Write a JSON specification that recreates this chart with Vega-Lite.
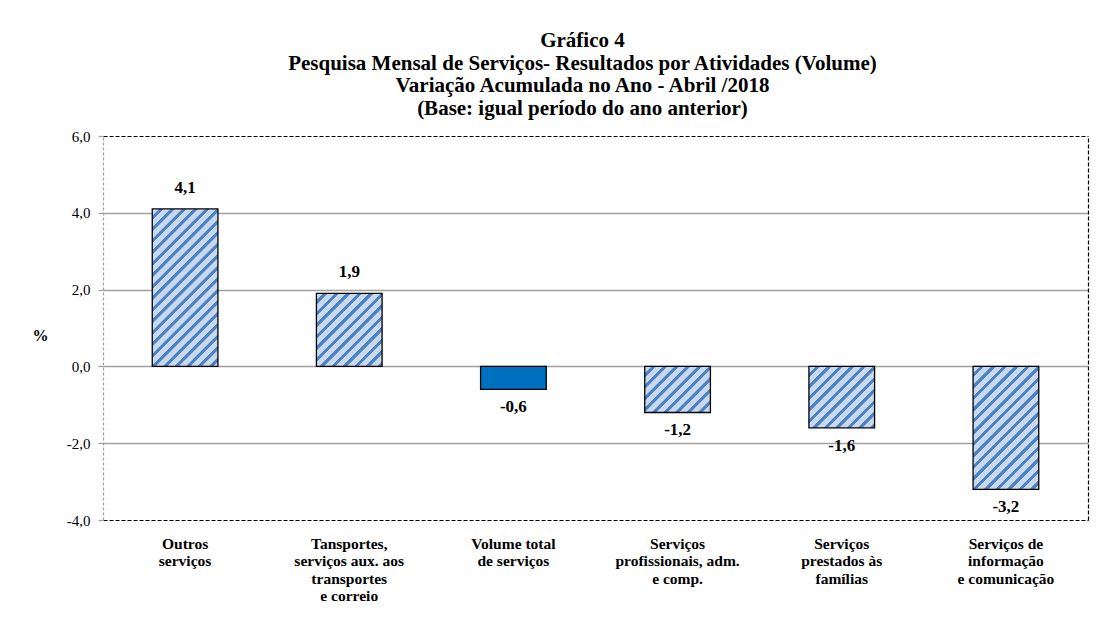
{
  "$schema": "https://vega.github.io/schema/vega-lite/v6.json",
  "autosize": "none",
  "width": 985,
  "height": 384,
  "padding": {"left": 103, "top": 136, "right": 10, "bottom": 99},
  "background": "white",
  "config": {
    "view": {"stroke": null},
    "locale": {"number": {"decimal": ",", "thousands": ".", "grouping": [3], "currency": ["", ""], "minus": "-"}},
    "font": "Liberation Serif"
  },
  "title": {
    "text": ["Gráfico 4", "Pesquisa Mensal de Serviços- Resultados por Atividades  (Volume)", "Variação Acumulada no Ano - Abril /2018", "(Base: igual período  do ano anterior)"],
    "font": "Liberation Serif",
    "fontSize": 21,
    "fontWeight": "bold",
    "lineHeight": 22.7,
    "color": "black",
    "anchor": "middle",
    "frame": "group",
    "offset": 10,
    "dx": -13
  },
  "data": {
    "values": [
      {"cat": "Outros|serviços", "v": 4.1},
      {"cat": "Tansportes,|serviços aux. aos|transportes|e correio", "v": 1.9},
      {"cat": "Volume total|de serviços", "v": -0.6},
      {"cat": "Serviços|profissionais, adm.|e comp.", "v": -1.2},
      {"cat": "Serviços|prestados às|famílias", "v": -1.6},
      {"cat": "Serviços de|informação|e comunicação", "v": -3.2}
    ]
  },
  "encoding": {
    "x": {"field": "cat", "type": "nominal", "sort": null, "scale": {"paddingInner": 0.6, "paddingOuter": 0.3}},
    "y": {"field": "v", "type": "quantitative", "scale": {"domain": [-4, 6], "nice": false, "zero": true}}
  },
  "resolve": {"axis": {"x": "independent", "y": "independent"}},
  "layer": [
    {
      "mark": {"type": "bar", "stroke": "black", "strokeWidth": 1.3},
      "encoding": {
        "x": {"field": "cat", "type": "nominal", "sort": null, "axis": {
          "title": null, "orient": "bottom", "labelAngle": 0, "ticks": false, "tickSize": 0,
          "labelPadding": 16, "labelFont": "Liberation Serif", "labelFontSize": 15.5, "labelFontWeight": "bold",
          "labelColor": "black", "labelLineHeight": 17.5, "labelBaseline": "top",
          "labelExpr": "split(datum.label, '|')",
          "domainColor": "black", "domainDash": [4, 2], "domainWidth": 1.2
        }},
        "y": {"field": "v", "type": "quantitative", "axis": {
          "title": "%", "titleAngle": 0, "titleFont": "Liberation Serif", "titleFontSize": 16, "titleFontWeight": "bold",
          "titleColor": "black", "titleX": -63, "titleY": 199, "titleAlign": "center", "titleBaseline": "middle",
          "values": [-4, -2, 0, 2, 4, 6], "format": ".1f",
          "labelFont": "Liberation Serif", "labelFontSize": 15, "labelColor": "black", "labelPadding": 8,
          "ticks": true, "tickSize": 5, "tickColor": "#a0a0a0", "tickWidth": 1.3,
          "grid": true, "gridWidth": 1.3,
          "gridColor": {"condition": {"test": "datum.value == 6 || datum.value == -4", "value": "transparent"}, "value": "#a0a0a0"},
          "domainColor": "#a0a0a0", "domainDash": [3, 2], "domainWidth": 1.2
        }},
        "fill": {
          "condition": [
            {"test": "datum.v == 4.1", "value": {"gradient": "linear", "x1": 0, "y1": 0, "x2": 0.5192, "y2": 1.2442, "stops": [
{"offset":0,"color":"#c6d9f1"},{"offset":0.029,"color":"#c6d9f1"},{"offset":0.031,"color":"#4f81bd"},{"offset":0.048,"color":"#4f81bd"},
{"offset":0.05,"color":"#c6d9f1"},{"offset":0.079,"color":"#c6d9f1"},{"offset":0.081,"color":"#4f81bd"},{"offset":0.098,"color":"#4f81bd"},
{"offset":0.1,"color":"#c6d9f1"},{"offset":0.129,"color":"#c6d9f1"},{"offset":0.131,"color":"#4f81bd"},{"offset":0.148,"color":"#4f81bd"},
{"offset":0.15,"color":"#c6d9f1"},{"offset":0.179,"color":"#c6d9f1"},{"offset":0.181,"color":"#4f81bd"},{"offset":0.198,"color":"#4f81bd"},
{"offset":0.2,"color":"#c6d9f1"},{"offset":0.229,"color":"#c6d9f1"},{"offset":0.231,"color":"#4f81bd"},{"offset":0.248,"color":"#4f81bd"},
{"offset":0.25,"color":"#c6d9f1"},{"offset":0.279,"color":"#c6d9f1"},{"offset":0.281,"color":"#4f81bd"},{"offset":0.298,"color":"#4f81bd"},
{"offset":0.3,"color":"#c6d9f1"},{"offset":0.329,"color":"#c6d9f1"},{"offset":0.331,"color":"#4f81bd"},{"offset":0.348,"color":"#4f81bd"},
{"offset":0.35,"color":"#c6d9f1"},{"offset":0.379,"color":"#c6d9f1"},{"offset":0.381,"color":"#4f81bd"},{"offset":0.398,"color":"#4f81bd"},
{"offset":0.4,"color":"#c6d9f1"},{"offset":0.429,"color":"#c6d9f1"},{"offset":0.431,"color":"#4f81bd"},{"offset":0.448,"color":"#4f81bd"},
{"offset":0.45,"color":"#c6d9f1"},{"offset":0.479,"color":"#c6d9f1"},{"offset":0.481,"color":"#4f81bd"},{"offset":0.498,"color":"#4f81bd"},
{"offset":0.5,"color":"#c6d9f1"},{"offset":0.529,"color":"#c6d9f1"},{"offset":0.531,"color":"#4f81bd"},{"offset":0.548,"color":"#4f81bd"},
{"offset":0.55,"color":"#c6d9f1"},{"offset":0.579,"color":"#c6d9f1"},{"offset":0.581,"color":"#4f81bd"},{"offset":0.598,"color":"#4f81bd"},
{"offset":0.6,"color":"#c6d9f1"},{"offset":0.629,"color":"#c6d9f1"},{"offset":0.631,"color":"#4f81bd"},{"offset":0.648,"color":"#4f81bd"},
{"offset":0.65,"color":"#c6d9f1"},{"offset":0.679,"color":"#c6d9f1"},{"offset":0.681,"color":"#4f81bd"},{"offset":0.698,"color":"#4f81bd"},
{"offset":0.7,"color":"#c6d9f1"},{"offset":0.729,"color":"#c6d9f1"},{"offset":0.731,"color":"#4f81bd"},{"offset":0.748,"color":"#4f81bd"},
{"offset":0.75,"color":"#c6d9f1"},{"offset":0.779,"color":"#c6d9f1"},{"offset":0.781,"color":"#4f81bd"},{"offset":0.798,"color":"#4f81bd"},
{"offset":0.8,"color":"#c6d9f1"},{"offset":0.829,"color":"#c6d9f1"},{"offset":0.831,"color":"#4f81bd"},{"offset":0.848,"color":"#4f81bd"},
{"offset":0.85,"color":"#c6d9f1"},{"offset":0.879,"color":"#c6d9f1"},{"offset":0.881,"color":"#4f81bd"},{"offset":0.898,"color":"#4f81bd"},
{"offset":0.9,"color":"#c6d9f1"},{"offset":0.929,"color":"#c6d9f1"},{"offset":0.931,"color":"#4f81bd"},{"offset":0.948,"color":"#4f81bd"},
{"offset":0.95,"color":"#c6d9f1"},{"offset":0.979,"color":"#c6d9f1"},{"offset":0.981,"color":"#4f81bd"},{"offset":0.998,"color":"#4f81bd"},
{"offset":1,"color":"#c6d9f1"}]}},
            {"test": "datum.v == 1.9", "value": {"gradient": "linear", "x1": 0, "y1": 0, "x2": 1.5676, "y2": 1.7408, "stops": [
{"offset":0,"color":"#c6d9f1"},{"offset":0.029,"color":"#c6d9f1"},{"offset":0.031,"color":"#4f81bd"},{"offset":0.048,"color":"#4f81bd"},
{"offset":0.05,"color":"#c6d9f1"},{"offset":0.079,"color":"#c6d9f1"},{"offset":0.081,"color":"#4f81bd"},{"offset":0.098,"color":"#4f81bd"},
{"offset":0.1,"color":"#c6d9f1"},{"offset":0.129,"color":"#c6d9f1"},{"offset":0.131,"color":"#4f81bd"},{"offset":0.148,"color":"#4f81bd"},
{"offset":0.15,"color":"#c6d9f1"},{"offset":0.179,"color":"#c6d9f1"},{"offset":0.181,"color":"#4f81bd"},{"offset":0.198,"color":"#4f81bd"},
{"offset":0.2,"color":"#c6d9f1"},{"offset":0.229,"color":"#c6d9f1"},{"offset":0.231,"color":"#4f81bd"},{"offset":0.248,"color":"#4f81bd"},
{"offset":0.25,"color":"#c6d9f1"},{"offset":0.279,"color":"#c6d9f1"},{"offset":0.281,"color":"#4f81bd"},{"offset":0.298,"color":"#4f81bd"},
{"offset":0.3,"color":"#c6d9f1"},{"offset":0.329,"color":"#c6d9f1"},{"offset":0.331,"color":"#4f81bd"},{"offset":0.348,"color":"#4f81bd"},
{"offset":0.35,"color":"#c6d9f1"},{"offset":0.379,"color":"#c6d9f1"},{"offset":0.381,"color":"#4f81bd"},{"offset":0.398,"color":"#4f81bd"},
{"offset":0.4,"color":"#c6d9f1"},{"offset":0.429,"color":"#c6d9f1"},{"offset":0.431,"color":"#4f81bd"},{"offset":0.448,"color":"#4f81bd"},
{"offset":0.45,"color":"#c6d9f1"},{"offset":0.479,"color":"#c6d9f1"},{"offset":0.481,"color":"#4f81bd"},{"offset":0.498,"color":"#4f81bd"},
{"offset":0.5,"color":"#c6d9f1"},{"offset":0.529,"color":"#c6d9f1"},{"offset":0.531,"color":"#4f81bd"},{"offset":0.548,"color":"#4f81bd"},
{"offset":0.55,"color":"#c6d9f1"},{"offset":0.579,"color":"#c6d9f1"},{"offset":0.581,"color":"#4f81bd"},{"offset":0.598,"color":"#4f81bd"},
{"offset":0.6,"color":"#c6d9f1"},{"offset":0.629,"color":"#c6d9f1"},{"offset":0.631,"color":"#4f81bd"},{"offset":0.648,"color":"#4f81bd"},
{"offset":0.65,"color":"#c6d9f1"},{"offset":0.679,"color":"#c6d9f1"},{"offset":0.681,"color":"#4f81bd"},{"offset":0.698,"color":"#4f81bd"},
{"offset":0.7,"color":"#c6d9f1"},{"offset":0.729,"color":"#c6d9f1"},{"offset":0.731,"color":"#4f81bd"},{"offset":0.748,"color":"#4f81bd"},
{"offset":0.75,"color":"#c6d9f1"},{"offset":0.779,"color":"#c6d9f1"},{"offset":0.781,"color":"#4f81bd"},{"offset":0.798,"color":"#4f81bd"},
{"offset":0.8,"color":"#c6d9f1"},{"offset":0.829,"color":"#c6d9f1"},{"offset":0.831,"color":"#4f81bd"},{"offset":0.848,"color":"#4f81bd"},
{"offset":0.85,"color":"#c6d9f1"},{"offset":0.879,"color":"#c6d9f1"},{"offset":0.881,"color":"#4f81bd"},{"offset":0.898,"color":"#4f81bd"},
{"offset":0.9,"color":"#c6d9f1"},{"offset":0.929,"color":"#c6d9f1"},{"offset":0.931,"color":"#4f81bd"},{"offset":0.948,"color":"#4f81bd"},
{"offset":0.95,"color":"#c6d9f1"},{"offset":0.979,"color":"#c6d9f1"},{"offset":0.981,"color":"#4f81bd"},{"offset":0.998,"color":"#4f81bd"},
{"offset":1,"color":"#c6d9f1"}]}},
            {"test": "datum.v == -1.2", "value": {"gradient": "linear", "x1": 0, "y1": 0, "x2": 2.3465, "y2": 1.6457, "stops": [
{"offset":0,"color":"#c6d9f1"},{"offset":0.029,"color":"#c6d9f1"},{"offset":0.031,"color":"#4f81bd"},{"offset":0.048,"color":"#4f81bd"},
{"offset":0.05,"color":"#c6d9f1"},{"offset":0.079,"color":"#c6d9f1"},{"offset":0.081,"color":"#4f81bd"},{"offset":0.098,"color":"#4f81bd"},
{"offset":0.1,"color":"#c6d9f1"},{"offset":0.129,"color":"#c6d9f1"},{"offset":0.131,"color":"#4f81bd"},{"offset":0.148,"color":"#4f81bd"},
{"offset":0.15,"color":"#c6d9f1"},{"offset":0.179,"color":"#c6d9f1"},{"offset":0.181,"color":"#4f81bd"},{"offset":0.198,"color":"#4f81bd"},
{"offset":0.2,"color":"#c6d9f1"},{"offset":0.229,"color":"#c6d9f1"},{"offset":0.231,"color":"#4f81bd"},{"offset":0.248,"color":"#4f81bd"},
{"offset":0.25,"color":"#c6d9f1"},{"offset":0.279,"color":"#c6d9f1"},{"offset":0.281,"color":"#4f81bd"},{"offset":0.298,"color":"#4f81bd"},
{"offset":0.3,"color":"#c6d9f1"},{"offset":0.329,"color":"#c6d9f1"},{"offset":0.331,"color":"#4f81bd"},{"offset":0.348,"color":"#4f81bd"},
{"offset":0.35,"color":"#c6d9f1"},{"offset":0.379,"color":"#c6d9f1"},{"offset":0.381,"color":"#4f81bd"},{"offset":0.398,"color":"#4f81bd"},
{"offset":0.4,"color":"#c6d9f1"},{"offset":0.429,"color":"#c6d9f1"},{"offset":0.431,"color":"#4f81bd"},{"offset":0.448,"color":"#4f81bd"},
{"offset":0.45,"color":"#c6d9f1"},{"offset":0.479,"color":"#c6d9f1"},{"offset":0.481,"color":"#4f81bd"},{"offset":0.498,"color":"#4f81bd"},
{"offset":0.5,"color":"#c6d9f1"},{"offset":0.529,"color":"#c6d9f1"},{"offset":0.531,"color":"#4f81bd"},{"offset":0.548,"color":"#4f81bd"},
{"offset":0.55,"color":"#c6d9f1"},{"offset":0.579,"color":"#c6d9f1"},{"offset":0.581,"color":"#4f81bd"},{"offset":0.598,"color":"#4f81bd"},
{"offset":0.6,"color":"#c6d9f1"},{"offset":0.629,"color":"#c6d9f1"},{"offset":0.631,"color":"#4f81bd"},{"offset":0.648,"color":"#4f81bd"},
{"offset":0.65,"color":"#c6d9f1"},{"offset":0.679,"color":"#c6d9f1"},{"offset":0.681,"color":"#4f81bd"},{"offset":0.698,"color":"#4f81bd"},
{"offset":0.7,"color":"#c6d9f1"},{"offset":0.729,"color":"#c6d9f1"},{"offset":0.731,"color":"#4f81bd"},{"offset":0.748,"color":"#4f81bd"},
{"offset":0.75,"color":"#c6d9f1"},{"offset":0.779,"color":"#c6d9f1"},{"offset":0.781,"color":"#4f81bd"},{"offset":0.798,"color":"#4f81bd"},
{"offset":0.8,"color":"#c6d9f1"},{"offset":0.829,"color":"#c6d9f1"},{"offset":0.831,"color":"#4f81bd"},{"offset":0.848,"color":"#4f81bd"},
{"offset":0.85,"color":"#c6d9f1"},{"offset":0.879,"color":"#c6d9f1"},{"offset":0.881,"color":"#4f81bd"},{"offset":0.898,"color":"#4f81bd"},
{"offset":0.9,"color":"#c6d9f1"},{"offset":0.929,"color":"#c6d9f1"},{"offset":0.931,"color":"#4f81bd"},{"offset":0.948,"color":"#4f81bd"},
{"offset":0.95,"color":"#c6d9f1"},{"offset":0.979,"color":"#c6d9f1"},{"offset":0.981,"color":"#4f81bd"},{"offset":0.998,"color":"#4f81bd"},
{"offset":1,"color":"#c6d9f1"}]}},
            {"test": "datum.v == -1.6", "value": {"gradient": "linear", "x1": 0, "y1": 0, "x2": 1.8676, "y2": 1.7464, "stops": [
{"offset":0,"color":"#c6d9f1"},{"offset":0.029,"color":"#c6d9f1"},{"offset":0.031,"color":"#4f81bd"},{"offset":0.048,"color":"#4f81bd"},
{"offset":0.05,"color":"#c6d9f1"},{"offset":0.079,"color":"#c6d9f1"},{"offset":0.081,"color":"#4f81bd"},{"offset":0.098,"color":"#4f81bd"},
{"offset":0.1,"color":"#c6d9f1"},{"offset":0.129,"color":"#c6d9f1"},{"offset":0.131,"color":"#4f81bd"},{"offset":0.148,"color":"#4f81bd"},
{"offset":0.15,"color":"#c6d9f1"},{"offset":0.179,"color":"#c6d9f1"},{"offset":0.181,"color":"#4f81bd"},{"offset":0.198,"color":"#4f81bd"},
{"offset":0.2,"color":"#c6d9f1"},{"offset":0.229,"color":"#c6d9f1"},{"offset":0.231,"color":"#4f81bd"},{"offset":0.248,"color":"#4f81bd"},
{"offset":0.25,"color":"#c6d9f1"},{"offset":0.279,"color":"#c6d9f1"},{"offset":0.281,"color":"#4f81bd"},{"offset":0.298,"color":"#4f81bd"},
{"offset":0.3,"color":"#c6d9f1"},{"offset":0.329,"color":"#c6d9f1"},{"offset":0.331,"color":"#4f81bd"},{"offset":0.348,"color":"#4f81bd"},
{"offset":0.35,"color":"#c6d9f1"},{"offset":0.379,"color":"#c6d9f1"},{"offset":0.381,"color":"#4f81bd"},{"offset":0.398,"color":"#4f81bd"},
{"offset":0.4,"color":"#c6d9f1"},{"offset":0.429,"color":"#c6d9f1"},{"offset":0.431,"color":"#4f81bd"},{"offset":0.448,"color":"#4f81bd"},
{"offset":0.45,"color":"#c6d9f1"},{"offset":0.479,"color":"#c6d9f1"},{"offset":0.481,"color":"#4f81bd"},{"offset":0.498,"color":"#4f81bd"},
{"offset":0.5,"color":"#c6d9f1"},{"offset":0.529,"color":"#c6d9f1"},{"offset":0.531,"color":"#4f81bd"},{"offset":0.548,"color":"#4f81bd"},
{"offset":0.55,"color":"#c6d9f1"},{"offset":0.579,"color":"#c6d9f1"},{"offset":0.581,"color":"#4f81bd"},{"offset":0.598,"color":"#4f81bd"},
{"offset":0.6,"color":"#c6d9f1"},{"offset":0.629,"color":"#c6d9f1"},{"offset":0.631,"color":"#4f81bd"},{"offset":0.648,"color":"#4f81bd"},
{"offset":0.65,"color":"#c6d9f1"},{"offset":0.679,"color":"#c6d9f1"},{"offset":0.681,"color":"#4f81bd"},{"offset":0.698,"color":"#4f81bd"},
{"offset":0.7,"color":"#c6d9f1"},{"offset":0.729,"color":"#c6d9f1"},{"offset":0.731,"color":"#4f81bd"},{"offset":0.748,"color":"#4f81bd"},
{"offset":0.75,"color":"#c6d9f1"},{"offset":0.779,"color":"#c6d9f1"},{"offset":0.781,"color":"#4f81bd"},{"offset":0.798,"color":"#4f81bd"},
{"offset":0.8,"color":"#c6d9f1"},{"offset":0.829,"color":"#c6d9f1"},{"offset":0.831,"color":"#4f81bd"},{"offset":0.848,"color":"#4f81bd"},
{"offset":0.85,"color":"#c6d9f1"},{"offset":0.879,"color":"#c6d9f1"},{"offset":0.881,"color":"#4f81bd"},{"offset":0.898,"color":"#4f81bd"},
{"offset":0.9,"color":"#c6d9f1"},{"offset":0.929,"color":"#c6d9f1"},{"offset":0.931,"color":"#4f81bd"},{"offset":0.948,"color":"#4f81bd"},
{"offset":0.95,"color":"#c6d9f1"},{"offset":0.979,"color":"#c6d9f1"},{"offset":0.981,"color":"#4f81bd"},{"offset":0.998,"color":"#4f81bd"},
{"offset":1,"color":"#c6d9f1"}]}},
            {"test": "datum.v == -3.2", "value": {"gradient": "linear", "x1": 0, "y1": 0, "x2": 0.7783, "y2": 1.4557, "stops": [
{"offset":0,"color":"#c6d9f1"},{"offset":0.029,"color":"#c6d9f1"},{"offset":0.031,"color":"#4f81bd"},{"offset":0.048,"color":"#4f81bd"},
{"offset":0.05,"color":"#c6d9f1"},{"offset":0.079,"color":"#c6d9f1"},{"offset":0.081,"color":"#4f81bd"},{"offset":0.098,"color":"#4f81bd"},
{"offset":0.1,"color":"#c6d9f1"},{"offset":0.129,"color":"#c6d9f1"},{"offset":0.131,"color":"#4f81bd"},{"offset":0.148,"color":"#4f81bd"},
{"offset":0.15,"color":"#c6d9f1"},{"offset":0.179,"color":"#c6d9f1"},{"offset":0.181,"color":"#4f81bd"},{"offset":0.198,"color":"#4f81bd"},
{"offset":0.2,"color":"#c6d9f1"},{"offset":0.229,"color":"#c6d9f1"},{"offset":0.231,"color":"#4f81bd"},{"offset":0.248,"color":"#4f81bd"},
{"offset":0.25,"color":"#c6d9f1"},{"offset":0.279,"color":"#c6d9f1"},{"offset":0.281,"color":"#4f81bd"},{"offset":0.298,"color":"#4f81bd"},
{"offset":0.3,"color":"#c6d9f1"},{"offset":0.329,"color":"#c6d9f1"},{"offset":0.331,"color":"#4f81bd"},{"offset":0.348,"color":"#4f81bd"},
{"offset":0.35,"color":"#c6d9f1"},{"offset":0.379,"color":"#c6d9f1"},{"offset":0.381,"color":"#4f81bd"},{"offset":0.398,"color":"#4f81bd"},
{"offset":0.4,"color":"#c6d9f1"},{"offset":0.429,"color":"#c6d9f1"},{"offset":0.431,"color":"#4f81bd"},{"offset":0.448,"color":"#4f81bd"},
{"offset":0.45,"color":"#c6d9f1"},{"offset":0.479,"color":"#c6d9f1"},{"offset":0.481,"color":"#4f81bd"},{"offset":0.498,"color":"#4f81bd"},
{"offset":0.5,"color":"#c6d9f1"},{"offset":0.529,"color":"#c6d9f1"},{"offset":0.531,"color":"#4f81bd"},{"offset":0.548,"color":"#4f81bd"},
{"offset":0.55,"color":"#c6d9f1"},{"offset":0.579,"color":"#c6d9f1"},{"offset":0.581,"color":"#4f81bd"},{"offset":0.598,"color":"#4f81bd"},
{"offset":0.6,"color":"#c6d9f1"},{"offset":0.629,"color":"#c6d9f1"},{"offset":0.631,"color":"#4f81bd"},{"offset":0.648,"color":"#4f81bd"},
{"offset":0.65,"color":"#c6d9f1"},{"offset":0.679,"color":"#c6d9f1"},{"offset":0.681,"color":"#4f81bd"},{"offset":0.698,"color":"#4f81bd"},
{"offset":0.7,"color":"#c6d9f1"},{"offset":0.729,"color":"#c6d9f1"},{"offset":0.731,"color":"#4f81bd"},{"offset":0.748,"color":"#4f81bd"},
{"offset":0.75,"color":"#c6d9f1"},{"offset":0.779,"color":"#c6d9f1"},{"offset":0.781,"color":"#4f81bd"},{"offset":0.798,"color":"#4f81bd"},
{"offset":0.8,"color":"#c6d9f1"},{"offset":0.829,"color":"#c6d9f1"},{"offset":0.831,"color":"#4f81bd"},{"offset":0.848,"color":"#4f81bd"},
{"offset":0.85,"color":"#c6d9f1"},{"offset":0.879,"color":"#c6d9f1"},{"offset":0.881,"color":"#4f81bd"},{"offset":0.898,"color":"#4f81bd"},
{"offset":0.9,"color":"#c6d9f1"},{"offset":0.929,"color":"#c6d9f1"},{"offset":0.931,"color":"#4f81bd"},{"offset":0.948,"color":"#4f81bd"},
{"offset":0.95,"color":"#c6d9f1"},{"offset":0.979,"color":"#c6d9f1"},{"offset":0.981,"color":"#4f81bd"},{"offset":0.998,"color":"#4f81bd"},
{"offset":1,"color":"#c6d9f1"}]}}
          ],
          "value": "#0070c0"
        }
      }
    },
    {
      "transform": [{"filter": "datum.v > 0"}],
      "mark": {"type": "text", "baseline": "bottom", "dy": -12, "font": "Liberation Serif", "fontSize": 17, "fontWeight": "bold", "color": "black"},
      "encoding": {
        "x": {"field": "cat", "type": "nominal", "sort": null, "axis": {
          "orient": "top", "title": null, "labels": false, "ticks": false, "domainColor": "black", "domainDash": [4, 2], "domainWidth": 1.2
        }},
        "y": {"field": "v", "type": "quantitative", "axis": {
          "orient": "right", "title": null, "labels": false, "ticks": false, "grid": false, "domainColor": "black", "domainDash": [4, 2], "domainWidth": 1.2
        }},
        "text": {"field": "v", "type": "quantitative", "format": ".1f"}
      }
    },
    {
      "transform": [{"filter": "datum.v < 0"}],
      "mark": {"type": "text", "baseline": "top", "dy": 10, "font": "Liberation Serif", "fontSize": 17, "fontWeight": "bold", "color": "black"},
      "encoding": {
        "x": {"field": "cat", "type": "nominal", "sort": null, "axis": null},
        "y": {"field": "v", "type": "quantitative", "axis": null},
        "text": {"field": "v", "type": "quantitative", "format": ".1f"}
      }
    }
  ]
}
